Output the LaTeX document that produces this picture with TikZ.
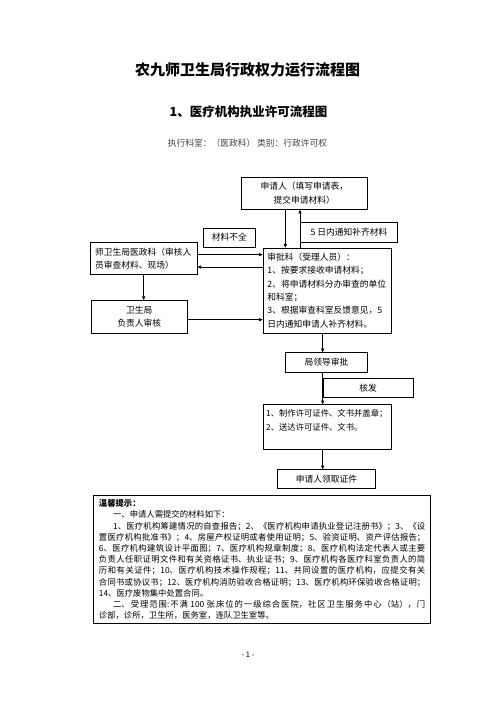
\documentclass[tikz,border=0pt]{standalone}
\usepackage{fontspec}
\usetikzlibrary{calc}
\usetikzlibrary{arrows.meta}
\newfontfamily\cjk{Noto Sans CJK SC}
\newcommand{\wuhao}{\cjk\fontsize{10.5pt}{16pt}\selectfont}
\newcommand{\xiaowu}{\cjk\fontsize{10pt}{16.8pt}\selectfont}
\newcommand{\tipfont}{\cjk\fontsize{10pt}{13.44pt}\selectfont}
\newcommand{\ind}{\hspace*{17pt}}
\tikzset{
    box/.style={draw, line width=0.8pt, rectangle, inner sep=0pt, anchor=north west, font=\wuhao},
    cbox/.style={box, align=center},
    lbox/.style={box, align=left},
    tip/.style={box, line width=1.2pt, align=justify, font=\tipfont},
    arr/.style={-{Triangle[length=4.5pt,width=3.8pt]}, line width=0.7pt},
}
\begin{document}
\begin{tikzpicture}[x=1.2pt, y=-1.2pt]
\useasboundingbox (0,0) rectangle (496,702);
% headings
\node[font=\cjk\fontsize{18pt}{22pt}\selectfont\bfseries] (title) at (247.5,70) {农九师卫生局行政权力运行流程图};
\node[font=\cjk\fontsize{15pt}{18pt}\selectfont\bfseries] (subtitle) at (248.5,112) {1、医疗机构执业许可流程图};
\node[font=\wuhao, text=black!75] (dept) at (247.5,143) {执行科室：（医政科） 类别：行政许可权};
% flow boxes
\node[cbox, minimum width=151.9pt, minimum height=38.8pt] (sqr) at (240.7,176.7) {申请人（填写申请表，\\提交申请材料）};
\node[cbox, minimum width=116.8pt, minimum height=24pt] (buqi) at (300,221.7) {5 日内通知补齐材料};
\node[cbox, minimum width=63.1pt, minimum height=22.8pt] (quan) at (202.7,227.7) {材料不全};
\node[lbox, text width=116.5pt, minimum width=128pt, minimum height=38.4pt] (yzk) at (90,242.3) {师卫生局医政科（审核人\\员审查材料、现场）};
\node[lbox, text width=143pt, minimum width=153.6pt, minimum height=102pt] (spk) at (262.7,247.7) {审批科（受理人员）：\\1、按要求接收申请材料；\\2、将申请材料分办审查的单位\\和科室；\\3、根据审查科室反馈意见，5\\日内通知申请人补齐材料。};
\node[cbox, minimum width=115.9pt, minimum height=39.2pt] (wsj) at (90.7,300) {卫生局\\负责人审核};
\node[cbox, minimum width=98.8pt, minimum height=23.3pt] (ldsp) at (285,352.3) {局领导审批};
\node[cbox, minimum width=108pt, minimum height=22.8pt] (hefa) at (322.7,378.3) {核发};
\node[lbox, font=\xiaowu, text width=146pt, minimum width=153.6pt, minimum height=54pt] (zhizuo) at (262.7,404.3) {1、制作许可证件、文书并盖章；\\2、送达许可证件、文书。\\ \mbox{}};
\node[cbox, minimum width=117.2pt, minimum height=22.8pt] (lingqu) at (277.3,469.3) {申请人领取证件};
% connectors
\coordinate (dn) at ($(sqr.south)+(-19,0)$);
\draw[arr] (dn) -- (dn |- spk.north);
\draw[arr] (spk.north -| buqi.west) -- (sqr.south -| buqi.west);
\coordinate (yr) at ($(yzk.east)+(0,-4)$);
\draw[arr] (yr) -- (yr -| spk.west);
\coordinate (yl) at ($(yzk.east)+(0,8.4)$);
\draw[arr] (yl -| spk.west) -- (yl);
\draw[arr] (yzk.south) -- (yzk.south |- wsj.north);
\coordinate (wr) at ($(wsj.east)+(0,3)$);
\draw[arr] (wr) -- (wr -| spk.west);
\draw[arr] (spk.south -| hefa.west) -- (ldsp.north -| hefa.west);
\draw[arr] (ldsp.south -| hefa.west) -- (zhizuo.north -| hefa.west);
\draw[arr] (zhizuo.south -| hefa.west) -- (lingqu.north -| hefa.west);
% reminder
\node[tip, text width=391.6pt, minimum width=404pt, minimum height=154pt] (tishi) at (93.3,495) {\XeTeXlinebreaklocale "zh"\XeTeXlinebreakskip=0pt plus 2pt\noindent
\textbf{温馨提示：}\\
\ind 一、申请人需提交的材料如下：\\
\ind 1、医疗机构筹建情况的自查报告；2、《医疗机构申请执业登记注册书》；3、《设\linebreak
置医疗机构批准书》；4、房屋产权证明或者使用证明；5、验资证明、资产评估报告；\linebreak
6、医疗机构建筑设计平面图；7、医疗机构规章制度；8、医疗机构法定代表人或主要\linebreak
负责人任职证明文件和有关资格证书、执业证书；9、医疗机构各医疗科室负责人的简\linebreak
历和有关证件；10、医疗机构技术操作规程；11、共同设置的医疗机构，应提交有关\linebreak
合同书或协议书；12、医疗机构消防验收合格证明；13、医疗机构环保验收合格证明；\linebreak
14、医疗废物集中处置合同。\\
\ind 二、受理范围:不满 100 张床位的一级综合医院，社区卫生服务中心（站），门\linebreak
诊部，诊所，卫生所，医务室，连队卫生室等。};
\node[font=\cjk\fontsize{9pt}{11pt}\selectfont] (page) at (248,655) {- 1 -};
\end{tikzpicture}
\end{document}
